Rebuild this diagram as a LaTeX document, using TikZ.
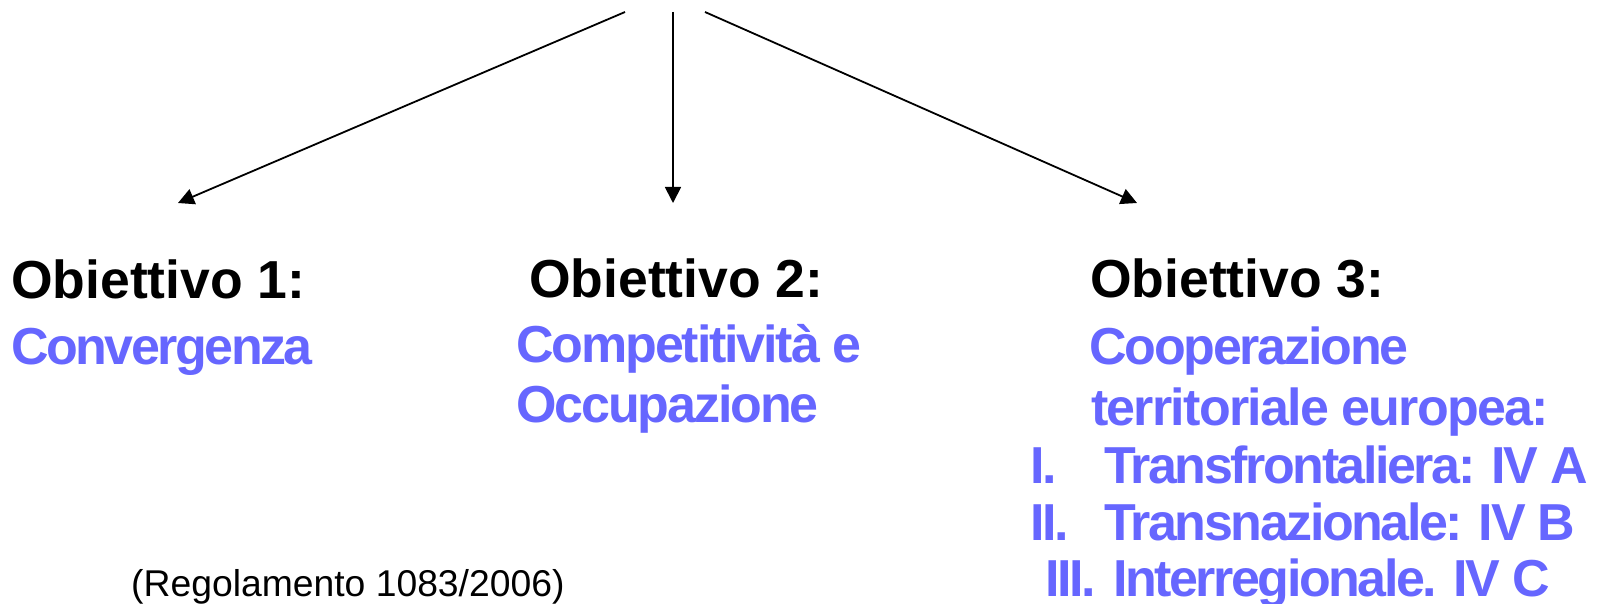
\documentclass[tikz,border=0pt]{standalone}
\usepackage{fontspec}
\setmainfont{Liberation Sans}
\usetikzlibrary{arrows.meta}
\definecolor{objblue}{RGB}{102,102,255}
\tikzset{
  txt/.style={inner sep=0pt, anchor=base west},
  head/.style={txt, font=\fontsize{53.5}{60}\selectfont\bfseries, text=black},
  sub/.style={txt, font=\fontsize{52}{60}\selectfont\bfseries, text=objblue},
  note/.style={txt, font=\fontsize{37.3}{42}\selectfont, text=black},
  branch/.style={line width=1.8pt, -{Triangle[length=16pt,width=16pt]}}
}
\begin{document}
\begin{tikzpicture}[x=1pt,y=-1pt]
\useasboundingbox (0,0) rectangle (1597,604);

% sources and ends of the three branches
\coordinate (s1) at (625,12);
\coordinate (s2) at (673,12);
\coordinate (s3) at (705,12);
\coordinate (t1) at (178,203);
\coordinate (t2) at (673,203);
\coordinate (t3) at (1137,203);
\draw[branch] (s1) -- (t1);
\draw[branch] (s2) -- (t2);
\draw[branch] (s3) -- (t3);

% first objective
\node[head] (o1) at (11,298) {Obiettivo 1:};
\node[sub] (o1a) at (11,364) {\addfontfeature{LetterSpace=-4.8}Convergenza};

% second objective
\node[head] (o2) at (529,297) {Obiettivo 2:};
\node[sub] (o2a) at (516,362) {\addfontfeature{LetterSpace=-4.1}Competitività e};
\node[sub] (o2b) at (516,422) {\addfontfeature{LetterSpace=-4.1}Occupazione};

% third objective
\node[head] (o3) at (1090,297) {Obiettivo 3:};
\node[sub] (o3a) at (1089,364) {\addfontfeature{LetterSpace=-4.3}Cooperazione};
\node[sub] (o3b) at (1091,425) {\addfontfeature{LetterSpace=-3.4}territoriale europea:};
\node[sub] (n1) at (1030,483) {\addfontfeature{LetterSpace=-4.7}I.};
\node[sub] (l1) at (1104,483) {\addfontfeature{LetterSpace=-4.7}Transfrontaliera: IV A};
\node[sub] (n2) at (1030,540) {\addfontfeature{LetterSpace=-4.7}II.};
\node[sub] (l2) at (1104,540) {\addfontfeature{LetterSpace=-4.7}Transnazionale: IV B};
\node[sub] (n3) at (1045,596) {\addfontfeature{LetterSpace=-4.7}III.};
\node[sub] (l3) at (1113,596) {\addfontfeature{LetterSpace=-4.7}Interregionale. IV C};

% regulation reference
\node[note] (reg) at (131,596) {(Regolamento 1083/2006)};
\end{tikzpicture}
\end{document}
